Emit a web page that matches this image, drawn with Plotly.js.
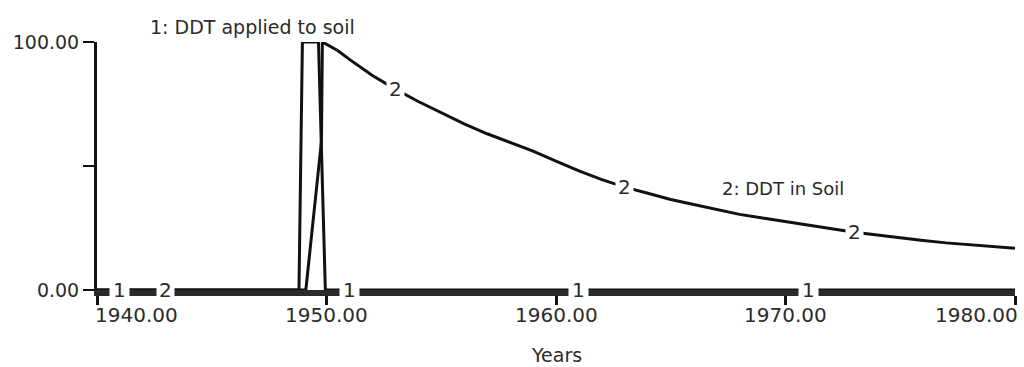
<!DOCTYPE html>
<html>
<head>
<meta charset="utf-8">
<script src="https://cdn.plot.ly/plotly-3.0.1.min.js"></script>
<style>
  html, body { margin: 0; padding: 0; background: #fff; }
  #chart { width: 1024px; height: 367px; }
</style>
</head>
<body>
<div id="chart"></div>
<script>
// ---- Data ----
const seriesNames = ["1: DDT applied to soil", "2: DDT in Soil"];

// Series 1: DDT applied to soil (pulse around 1949)
const appliedYears  = [1940, 1948.8, 1948.95, 1949.65, 1949.95, 1980];
const appliedValues = [0, 0, 100, 100, 0, 0];

// Series 2: DDT in soil
const soilYears  = [1940, 1949.1, 1949.78, 1949.82, 1950.5, 1951, 1952, 1953, 1954, 1955, 1956, 1957, 1958, 1959, 1960,
                    1961, 1962, 1963, 1964, 1965, 1966, 1967, 1968, 1969, 1970,
                    1971, 1972, 1973, 1974, 1975, 1976, 1977, 1978, 1979, 1980];
const soilValues = [0, 0, 60, 100, 96.5, 93, 86.5, 81, 76, 71.5, 67, 63, 59.5, 56, 52,
                    48, 44.5, 41.5, 39, 36.5, 34.5, 32.5, 30.5, 29, 27.5,
                    26, 24.5, 23.3, 22.2, 21, 20, 19, 18.2, 17.5, 16.8];

// Line id labels placed along each curve
const label1Years = [1941, 1951, 1961, 1971];
const label2Years = [1943, 1953, 1963, 1973];

// Axis ticks
const xTickVals   = [1940, 1950, 1960, 1970, 1980];
const xTickLabels = ["1940.00", "1950.00", "1960.00", "1970.00", "1980.00"];
const yTickVals   = [0, 50, 100];
const yTickLabels = ["0.00", "", "100.00"];
const xTitle = "Years";

// ---- Helpers ----
function interp(xs, ys, x) {
  for (let i = 0; i < xs.length - 1; i++) {
    if (x >= xs[i] && x <= xs[i + 1]) {
      const t = (x - xs[i]) / (xs[i + 1] - xs[i]);
      return ys[i] + t * (ys[i + 1] - ys[i]);
    }
  }
  return ys[ys.length - 1];
}

const FONT = "DejaVu Sans, Verdana, sans-serif";
const TXT = "#2b2b2b";
const LINE = "#111111";

const traces = [
  { x: appliedYears, y: appliedValues, mode: "lines", name: seriesNames[0],
    line: { color: LINE, width: 3 }, cliponaxis: false, hoverinfo: "skip" },
  { x: soilYears, y: soilValues, mode: "lines", name: seriesNames[1],
    line: { color: LINE, width: 3 }, cliponaxis: false, hoverinfo: "skip" }
];

const annotations = [];
label1Years.forEach(yr => annotations.push({
  x: yr, y: interp(appliedYears, appliedValues, yr), xref: "x", yref: "y",
  text: "1", showarrow: false, bgcolor: "#ffffff", borderpad: 3,
  font: { family: FONT, size: 20, color: TXT }
}));
label2Years.forEach(yr => annotations.push({
  x: yr, y: interp(soilYears, soilValues, yr), xref: "x", yref: "y",
  text: "2", showarrow: false, bgcolor: "#ffffff", borderpad: 2,
  font: { family: FONT, size: 20, color: TXT }
}));
// x tick labels (first left-aligned, last right-aligned, as in the reference)
xTickVals.forEach((v, i) => {
  const first = i === 0, last = i === xTickVals.length - 1;
  annotations.push({
    x: v, y: -0.1, xref: "x", yref: "paper", yanchor: "middle",
    xanchor: first ? "left" : (last ? "right" : "center"),
    xshift: first ? -4 : (last ? 5 : 0),
    text: xTickLabels[i], showarrow: false,
    font: { family: FONT, size: 20, color: TXT }
  });
});
// series name labels
annotations.push({
  x: 0.169, y: 1.06, xref: "paper", yref: "paper", text: seriesNames[0], showarrow: false,
  xanchor: "center", yanchor: "middle", font: { family: FONT, size: 19, color: TXT }
});
annotations.push({
  x: 0.747, y: 0.411, xref: "paper", yref: "paper", text: seriesNames[1], showarrow: false,
  xanchor: "center", yanchor: "middle", font: { family: FONT, size: 18, color: TXT }
});
// axis title
annotations.push({
  x: 0.5, y: -0.262, xref: "paper", yref: "paper", text: xTitle, showarrow: false,
  xanchor: "center", yanchor: "middle", font: { family: FONT, size: 19, color: TXT }
});

const layout = {
  width: 1024, height: 367,
  margin: { l: 97, r: 9, t: 42, b: 77 },
  paper_bgcolor: "#ffffff", plot_bgcolor: "#ffffff",
  showlegend: false,
  font: { family: FONT, size: 20, color: TXT },
  xaxis: {
    range: [1940, 1980], showgrid: false, zeroline: false,
    showline: true, linecolor: "#2a2a2a", linewidth: 6,
    tickmode: "array", tickvals: xTickVals, ticktext: xTickVals.map(() => ""),
    ticks: "outside", ticklen: 9, tickwidth: 3, tickcolor: LINE,
    fixedrange: true
  },
  yaxis: {
    range: [0, 100], showgrid: false, zeroline: false,
    showline: true, linecolor: LINE, linewidth: 3,
    tickmode: "array", tickvals: yTickVals, ticktext: yTickLabels,
    ticks: "outside", ticklen: 11, tickwidth: 2.5, tickcolor: LINE,
    tickfont: { family: FONT, size: 19, color: TXT },
    fixedrange: true
  },
  annotations: annotations
};

Plotly.newPlot("chart", traces, layout, { displayModeBar: false, staticPlot: true });
</script>
</body>
</html>
